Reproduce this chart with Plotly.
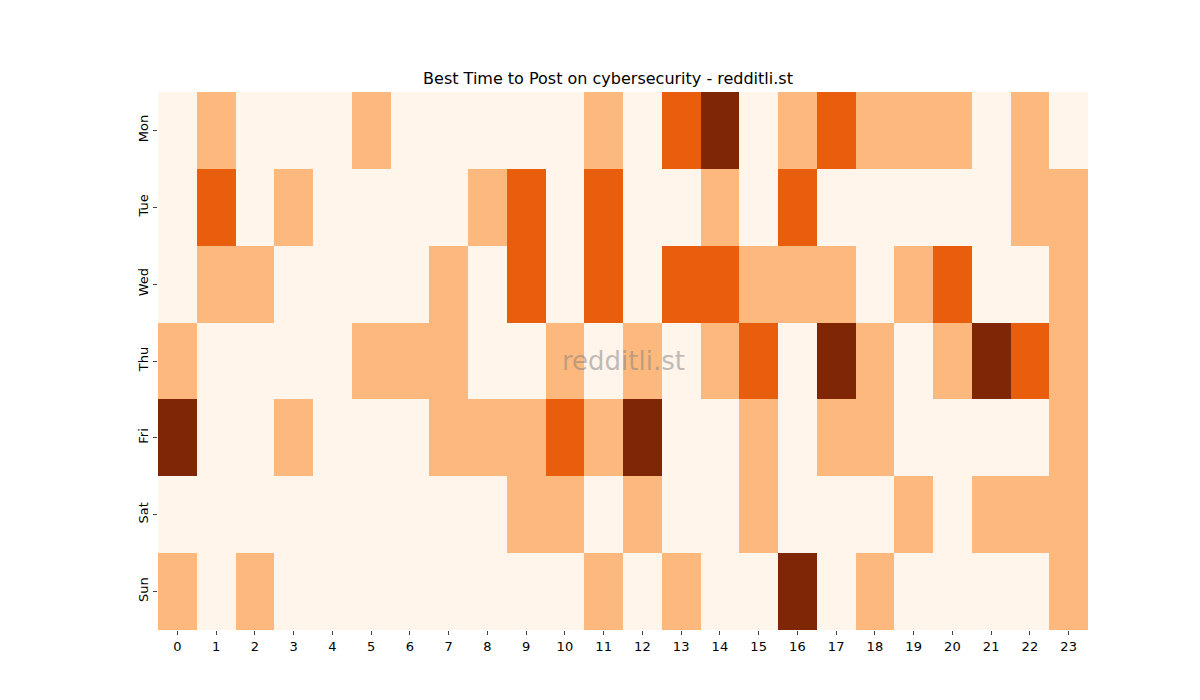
import plotly.graph_objects as go

days = ["Mon", "Tue", "Wed", "Thu", "Fri", "Sat", "Sun"]
hours = list(range(24))

mon = [0, 1, 0, 0, 0, 1, 0, 0, 0, 0, 0, 1, 0, 2, 3, 0, 1, 2, 1, 1, 1, 0, 1, 0]
tue = [0, 2, 0, 1, 0, 0, 0, 0, 1, 2, 0, 2, 0, 0, 1, 0, 2, 0, 0, 0, 0, 0, 1, 1]
wed = [0, 1, 1, 0, 0, 0, 0, 1, 0, 2, 0, 2, 0, 2, 2, 1, 1, 1, 0, 1, 2, 0, 0, 1]
thu = [1, 0, 0, 0, 0, 1, 1, 1, 0, 0, 1, 0, 1, 0, 1, 2, 0, 3, 1, 0, 1, 3, 2, 1]
fri = [3, 0, 0, 1, 0, 0, 0, 1, 1, 1, 2, 1, 3, 0, 0, 1, 0, 1, 1, 0, 0, 0, 0, 1]
sat = [0, 0, 0, 0, 0, 0, 0, 0, 0, 1, 1, 0, 1, 0, 0, 1, 0, 0, 0, 1, 0, 1, 1, 1]
sun = [1, 0, 1, 0, 0, 0, 0, 0, 0, 0, 0, 1, 0, 1, 0, 0, 3, 0, 1, 0, 0, 0, 0, 1]

z = [mon, tue, wed, thu, fri, sat, sun]

# Oranges-like discrete levels
colorscale = [
    [0.0, "#fff5eb"], [0.125, "#fff5eb"],
    [0.125, "#fdb97d"], [0.5, "#fdb97d"],
    [0.5, "#e95e0d"], [0.875, "#e95e0d"],
    [0.875, "#7f2704"], [1.0, "#7f2704"],
]

fig = go.Figure(go.Heatmap(
    z=z, x=hours, y=days, colorscale=colorscale, zmin=0, zmax=3,
    showscale=False, xgap=0, ygap=0,
))

fig.add_annotation(
    text="redditli.st", x=0.5, y=0.5, xref="paper", yref="paper",
    showarrow=False, font=dict(size=26, color="rgba(128,128,128,0.5)", family="DejaVu Sans"),
)

fig.update_layout(
    width=1200, height=700,
    margin=dict(l=150, r=120, t=84, b=78),
    title=dict(text="Best Time to Post on cybersecurity - redditli.st", x=0.5, xanchor="center",
               y=0.9, yanchor="middle", font=dict(size=16, color="black")),
    font=dict(family="DejaVu Sans", size=13, color="black"),
    plot_bgcolor="white", paper_bgcolor="white",
    xaxis=dict(tickmode="array", tickvals=hours, ticks="outside", ticklen=4,
               showgrid=False, zeroline=False),
    yaxis=dict(autorange="reversed", ticks="outside", ticklen=4, tickangle=-90,
               showgrid=False, zeroline=False),
)

fig.write_html("out.html")
